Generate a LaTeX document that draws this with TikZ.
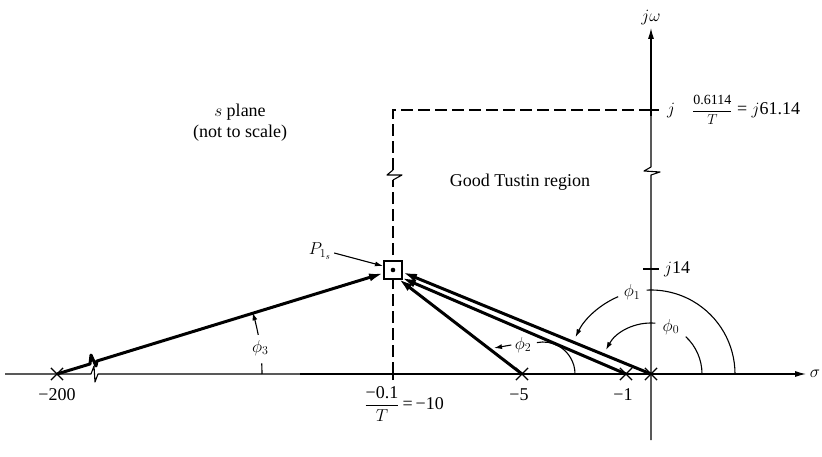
\documentclass[tikz,border=0pt]{standalone}
\usepackage{fontspec}
\setmainfont{Liberation Serif}
\usetikzlibrary{arrows.meta,positioning,shapes.misc}

\begin{document}
\begin{tikzpicture}[x=1pt,y=1pt,
    font=\fontsize{18}{21}\selectfont,
    axis/.style={line width=1.1pt, line join=round},
    pole/.style={draw, cross out, line width=1.2pt, minimum size=11pt, inner sep=0pt},
    vec/.style={line width=3pt, line join=round, -{Latex[length=15pt,width=8pt]}},
    ang/.style={line width=1.1pt},
    angarr/.style={line width=1.1pt, -{Latex[length=8pt,width=5pt]}},
    bound/.style={line width=1.1pt, dash pattern=on 12pt off 5pt},
    lbl/.style={inner sep=1pt}
  ]
  \useasboundingbox (0,0) rectangle (822,456);

  % axes with breaks
  \coordinate (xa) at (5,82);
  \coordinate (xb) at (806,82);
  \coordinate (ya) at (651,16);
  \coordinate (yb) at (651,428);
  \draw[axis] (xa) -- (91,82) -- (94,90) -- (95,74) -- (98,82) -- (300,82);
  \draw[axis, -{Latex[length=11pt,width=6pt]}] (300,82) -- (xb);
  \draw[axis] (ya) -- (651,281) -- (660,284) -- (644,285) -- (651,289) -- (651,340);
  \draw[axis, -{Latex[length=11pt,width=6pt]}] (651,340) -- (yb);
  \node[lbl] (sig) at (815,82) {$\sigma$};
  \node[lbl, above=2pt of yb] (jw) {$j\omega$};

  % poles
  \node[pole] (p0) at (651,82) {};
  \node[pole] (m1) at (626,82) {};
  \node[pole] (m5) at (522,82) {};
  \node[pole] (m200) at (57,82) {};
  \node[lbl, below=7pt of m200] {−200};
  \node[lbl, below=7pt of m5, xshift=-3pt] {−5};
  \node[lbl, below=7pt of m1, xshift=-3pt] {−1};

  % Tustin boundary
  \coordinate (m10) at (393,82);
  \coordinate (corner) at (393,346);
  \coordinate (top) at (651,346);
  \draw[axis] (393,76) -- (393,88);
  \draw[bound] (m10) -- (393,276);
  \draw[axis] (393,276) -- (402,281) -- (387,281) -- (393,286);
  \draw[bound] (393,286) -- (corner) -- (top);
  \draw[axis] (643,346) -- (659,346);
  \draw[axis] (643,187) -- (659,187);
  \node[lbl, anchor=east] (lten) at (445,52) {$\displaystyle\frac{\hbox{−0.1}}{T}$\,=\,−10};
  \node[lbl, anchor=west] (ltop) at (666,346) {$j$\hspace{17pt}{\fontsize{14}{16}\selectfont$\displaystyle\frac{\hbox{0.6114}}{T}$} = $j$61.14};
  \node[lbl, anchor=west] (l14) at (663,187) {$j$14};
  \node[lbl, align=center] (splane) at (240,333) {$s$ plane\\(not to scale)};
  \node[lbl] (good) at (520,274) {Good Tustin region};

  % vectors to the point
  \node[draw, fill=white, line width=1.2pt, minimum size=18pt, inner sep=0pt] (ps) at (393,186) {};
  \fill (ps.center) circle[radius=2.3];
  \draw[vec] (m200.center) -- (90,92) -- (91,101) -- (96,90) -- (97,95) -- (384,183);
  \draw[vec] (m5.center) -- (398,177.5);
  \draw[vec] (m1.center) -- (401,178.5);
  \draw[vec] (p0.center) -- (402,184);
  \node[lbl] (plbl) at (320,205) {$P_{1_s}$};
  \draw[angarr] (plbl.east) ++(2,-2) -- (383,190);

  % angles
  \draw[ang] ([shift={(0:51)}]p0.center) arc[start angle=0, end angle=47, radius=51];
  \node (phi0) at ([shift={(67:51)}]p0.center) {$\phi_0$};
  \draw[angarr] ([shift={(85:51)}]p0.center) arc[start angle=85, end angle=152, radius=51];
  \draw[ang] ([shift={(0:84)}]p0.center) arc[start angle=0, end angle=93, radius=84];
  \node (phi1) at ([shift={(103:84)}]p0.center) {$\phi_1$};
  \draw[angarr] ([shift={(113:84)}]p0.center) arc[start angle=113, end angle=154, radius=84];
  \coordinate (c2) at (543,82);
  \draw[ang] ([shift={(0:32)}]c2) arc[start angle=0, end angle=101, radius=32];
  \node (phi2) at (523,111) {$\phi_2$};
  \draw[angarr] (phi2.west) -- (494,108);
  \draw[ang] ([shift={(0:205)}]m200.center) arc[start angle=0, end angle=3, radius=205];
  \node (phi3) at ([shift={(7.3:205)}]m200.center) {$\phi_3$};
  \draw[angarr] ([shift={(11:205)}]m200.center) arc[start angle=11, end angle=17.5, radius=205];
\end{tikzpicture}
\end{document}
